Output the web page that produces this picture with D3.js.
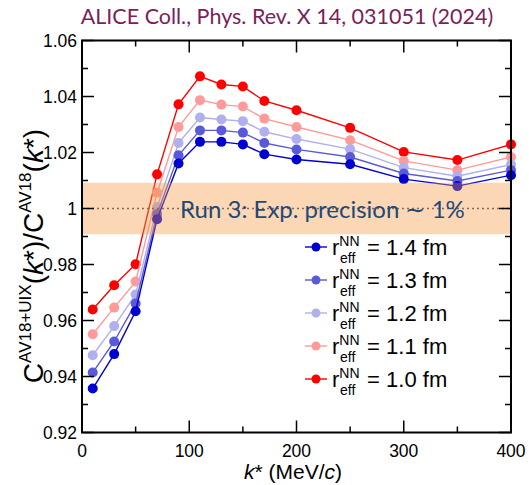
<!DOCTYPE html>
<html><head><meta charset="utf-8">
<script src="https://cdn.jsdelivr.net/npm/d3@7"></script>
<style>body{margin:0;background:#fff;} svg{display:block;}</style>
</head><body>
<svg id="c" width="529" height="485"></svg>
<script>
const kStar = [10,30,50,70,90,110,130,150,170,200,250,300,350,400];
const r10 = [0.9639,0.9726,0.9801,1.0122,1.0372,1.0472,1.0443,1.0436,1.0384,1.0351,1.0288,1.0202,1.0173,1.0229];
const r11 = [0.9551,0.9646,0.9739,1.0056,1.0291,1.0387,1.0371,1.0364,1.0321,1.0291,1.0244,1.0170,1.0137,1.0184];
const r12 = [0.9476,0.9580,0.9693,1.0005,1.0234,1.0325,1.0318,1.0312,1.0274,1.0248,1.0212,1.0146,1.0115,1.0157];
const r13 = [0.9414,0.9525,0.9661,0.9980,1.0190,1.0279,1.0279,1.0271,1.0234,1.0211,1.0184,1.0125,1.0098,1.0137];
const r14 = [0.9357,0.9480,0.9633,0.9962,1.0161,1.0238,1.0238,1.0229,1.0194,1.0175,1.0158,1.0105,1.0080,1.0119];
const radii = ["1.0","1.1","1.2","1.3","1.4"];
const seriesValues = [r10,r11,r12,r13,r14];
const colors = ["#ff0000","#ff9a9a","#b0b0ee","#5a5ad8","#0000d0"];
const xTicks = [0,100,200,300,400];
const yTicks = [0.92,0.94,0.96,0.98,1,1.02,1.04,1.06];
const yTickLabels = ["0.92","0.94","0.96","0.98","1","1.02","1.04","1.06"];
const bandHalf = 0.0092;
const bandText = "Run 3: Exp. precision ∼ 1%";
const title = "ALICE Coll., Phys. Rev. X 14, 031051 (2024)";

const svg = d3.select("#c");
const L=82, R=511, T=40.5, B=432.5;
const x = d3.scaleLinear().domain([0,400]).range([L,R]);
const y = d3.scaleLinear().domain([0.92,1.06]).range([B,T]);

// title
svg.append("text").attr("x",287).attr("y",24).attr("text-anchor","middle")
  .attr("font-family","Lato, 'Open Sans', sans-serif").attr("font-size",21.5)
  .attr("fill","#7d1d5c").text(title);

// series
const line = d3.line().x((d,i)=>x(kStar[i])).y(d=>y(d));
seriesValues.forEach((vals,s)=>{
  const g = svg.append("g");
  g.append("path").datum(vals).attr("d",line).attr("fill","none")
    .attr("stroke",colors[s]).attr("stroke-width",1.4);
  g.selectAll("circle").data(vals).join("circle")
    .attr("cx",(d,i)=>x(kStar[i])).attr("cy",d=>y(d)).attr("r",5)
    .attr("fill",colors[s]);
});

// band
svg.append("rect").attr("x",L).attr("width",R-L)
  .attr("y",y(1+bandHalf)).attr("height",y(1-bandHalf)-y(1+bandHalf))
  .attr("fill","rgb(245,150,60)").attr("fill-opacity",0.38);
svg.append("line").attr("x1",L).attr("x2",R).attr("y1",y(1)).attr("y2",y(1))
  .attr("stroke","#8a6a55").attr("stroke-width",1.3).attr("stroke-dasharray","2,3");
svg.append("text").attr("x",180).attr("y",y(1)+9).attr("font-family","Lato, sans-serif")
  .attr("font-size",24).attr("fill","#1d4a7c").text(bandText);

// axes
const font = "'Liberation Sans', Arial, sans-serif";
const ax = svg.append("g").attr("stroke","#000");
ax.append("rect").attr("x",L).attr("y",T).attr("width",R-L).attr("height",B-T)
  .attr("fill","none").attr("stroke-width",2);
const yMinor = d3.range(0,15).map(i=>0.92+i*0.01);
yMinor.forEach((v,i)=>{
  const len = (i%2===0)?12:6;
  ax.append("line").attr("x1",L).attr("x2",L+len).attr("y1",y(v)).attr("y2",y(v)).attr("stroke-width",1.5);
  ax.append("line").attr("x1",R).attr("x2",R-len).attr("y1",y(v)).attr("y2",y(v)).attr("stroke-width",1.5);
});
const xMinor = d3.range(0,9).map(i=>i*50);
xMinor.forEach((v,i)=>{
  const len = (i%2===0)?12:6;
  ax.append("line").attr("x1",x(v)).attr("x2",x(v)).attr("y1",B).attr("y2",B-len).attr("stroke-width",1.5);
  ax.append("line").attr("x1",x(v)).attr("x2",x(v)).attr("y1",T).attr("y2",T+len).attr("stroke-width",1.5);
});
yTicks.forEach((v,i)=>{
  svg.append("text").attr("x",77).attr("y",y(v)+6).attr("text-anchor","end")
    .attr("font-family",font).attr("font-size",17.5).attr("fill","#000").text(yTickLabels[i]);
});
xTicks.forEach(v=>{
  svg.append("text").attr("x",x(v)).attr("y",457).attr("text-anchor","middle")
    .attr("font-family",font).attr("font-size",17.5).attr("fill","#000").text(v);
});

// x label
const xl = svg.append("text").attr("x",293).attr("y",479).attr("text-anchor","middle")
  .attr("font-family",font).attr("font-size",21).attr("fill","#000");
xl.append("tspan").attr("font-style","italic").text("k");
xl.append("tspan").text("* (MeV/");
xl.append("tspan").attr("font-style","italic").text("c");
xl.append("tspan").text(")");

// y label
const yl = svg.append("text").attr("transform","translate(43,256) rotate(-90)")
  .attr("text-anchor","middle").attr("font-family",font).attr("font-size",28).attr("fill","#000");
yl.append("tspan").text("C");
yl.append("tspan").attr("font-size",17).attr("dy",-12).text("AV18+UIX");
yl.append("tspan").attr("dy",12).text("(");
yl.append("tspan").attr("font-style","italic").text("k");
yl.append("tspan").text("*)/C");
yl.append("tspan").attr("font-size",17).attr("dy",-12).text("AV18");
yl.append("tspan").attr("dy",12).text("(");
yl.append("tspan").attr("font-style","italic").text("k");
yl.append("tspan").text("*)");

// legend
const legOrder = [4,3,2,1,0];
legOrder.forEach((s,j)=>{
  const ly = 247 + j*33;
  svg.append("line").attr("x1",305).attr("x2",327).attr("y1",ly).attr("y2",ly)
    .attr("stroke",colors[s]).attr("stroke-width",1.4);
  svg.append("circle").attr("cx",316).attr("cy",ly).attr("r",4.5).attr("fill",colors[s]);
  const t = svg.append("text").attr("x",332).attr("y",ly+8).attr("font-family",font)
    .attr("font-size",22).attr("fill","#000");
  t.append("tspan").text("r");
  t.append("tspan").attr("font-size",14).attr("dy",-9).text("NN");
  t.append("tspan").attr("font-size",14).attr("x",340).attr("dy",17).text("eff");
  t.append("tspan").attr("dy",-8).attr("x",361).text(" = " + radii[s] + " fm");
});
</script>
</body></html>
